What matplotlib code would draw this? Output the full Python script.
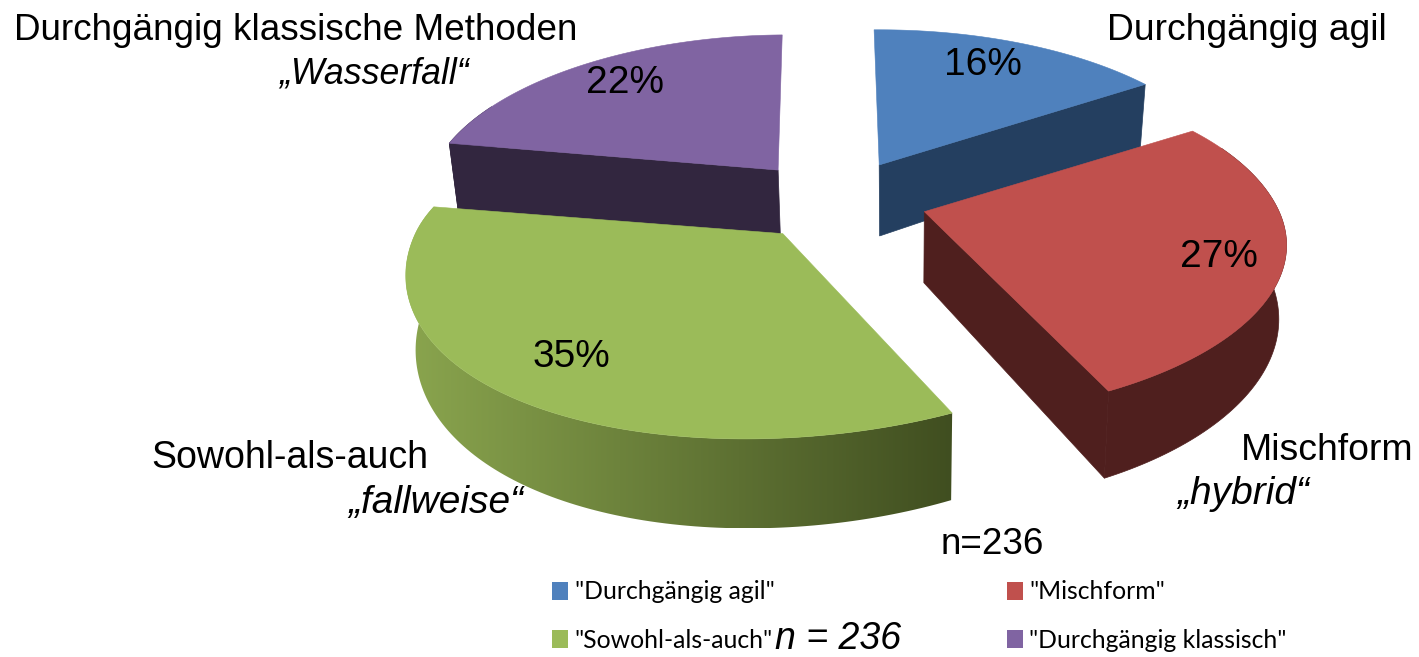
import numpy as np
import matplotlib
matplotlib.use("Agg")
import matplotlib.pyplot as plt
from matplotlib.colors import to_rgb
from matplotlib.patches import Patch, Polygon

# values
legend_names = ['"Durchgängig agil"', '"Mischform"', '"Sowohl-als-auch"', '"Durchgängig klassisch"']
shares = [16, 27, 35, 22]
top_colors = ["#4f81bd", "#c0504d", "#9bbb59", "#8064a2"]
side_colors = ["#243f60", "#4f1f1e", "#404e20", "#32263f"]
side_light = [None, None, "#8aa54e", None]

# pie geometry, in pixels of the reference
cx, cy = 837, 201
rx, ry = 362, 163
persp = 0.206
explode = 0.25
depth = 71
vanish_x, vanish_k = 900, 0.98
start_angle = -1
# the original's 3d camera skews every slice a bit differently
slice_scale = [0.98, 0.98, 1.015, 0.955]
slice_shear = [0, 8, 30, 11]


def project(apex, u, v, scale=1.0, shear=0.0, low=False):
    s = 1 / (1 + persp * v)
    x = apex[0] + (rx * scale * u + shear * v * abs(v)) * s
    y = apex[1] - ry * v * s
    if low:
        y = y + depth * s
        x = vanish_x + (x - vanish_x) * vanish_k
    return x, y


def arc(apex, a0, a1, scale, shear, low=False):
    aa = np.radians(np.linspace(a0, a1, max(int(abs(a1 - a0)), 2) + 1))
    return [project(apex, np.sin(a), np.cos(a), scale, shear, low) for a in aa]


def draw_slice(ax, share, a0, color, side, light, scale, shear):
    a1 = a0 + share * 3.6
    mid = np.radians((a0 + a1) / 2)
    apex = (cx + explode * rx * np.sin(mid), cy - explode * ry * np.cos(mid))

    # radial faces that look towards the viewer
    for a, seen in ((a0, np.sin(np.radians(a0)) < -0.02), (a1, np.sin(np.radians(a1)) > 0.02)):
        if seen:
            edge = [project(apex, 0, 0), arc(apex, a, a, scale, shear)[0]]
            edge_low = [arc(apex, a, a, scale, shear, True)[0], project(apex, 0, 0, low=True)]
            ax.add_patch(Polygon(edge + edge_low, fc=side, ec=side, lw=0.5, zorder=1))

    # outer wall, a bit past the sides of the circle, the top face hides the surplus
    w0, w1 = max(a0, 65), min(a1, 295)
    if w1 > w0:
        wall = arc(apex, w0, w1, scale, shear) + arc(apex, w0, w1, scale, shear, True)[::-1]
        if light:
            xs = [p[0] for p in wall]
            ys = [p[1] for p in wall]
            f = np.linspace(0, 1, 256)[:, None]
            grad = to_rgb(light) + (np.array(to_rgb(side)) - to_rgb(light)) * f
            im = ax.imshow(grad[None, :, :], extent=[min(xs), max(xs), max(ys), min(ys)],
                           aspect="auto", zorder=1)
            im.set_clip_path(Polygon(wall, transform=ax.transData))
        else:
            ax.add_patch(Polygon(wall, fc=side, ec=side, lw=0.5, zorder=1))

    ax.add_patch(Polygon([project(apex, 0, 0)] + arc(apex, a0, a1, scale, shear),
                         fc=color, ec=color, lw=0.4, zorder=2))


fig = plt.figure(figsize=(14.19, 6.57), dpi=100)
ax = fig.add_axes([0, 0, 1, 1])

starts = start_angle + np.cumsum([0] + shares[:-1]) * 3.6
# back slices first so the front ones cover them
for i in [3, 0, 2, 1]:
    draw_slice(ax, shares[i], starts[i], top_colors[i], side_colors[i], side_light[i],
               slice_scale[i], slice_shear[i])

ax.set_xlim(0, 1419)
ax.set_ylim(657, 0)
ax.axis("off")

plt.rcParams["font.family"] = ["Liberation Sans", "DejaVu Sans"]

pct_pos = [(983, 65), (1219, 257), (571, 357), (625, 83)]
for val, pos in zip(shares, pct_pos):
    ax.text(pos[0], pos[1], f"{val}%", fontsize=28, ha="center", va="center", zorder=5)

ax.text(296, 30, "Durchgängig klassische Methoden", fontsize=26.6, ha="center", va="center")
ax.text(374, 74, "„Wasserfall“", fontsize=25.7, style="italic", ha="center", va="center")
ax.text(1247, 31, "Durchgängig agil", fontsize=26.8, ha="center", va="center")
ax.text(1327, 450, "Mischform", fontsize=26.9, ha="center", va="center")
ax.text(1243, 494, "„hybrid“", fontsize=28, style="italic", ha="center", va="center")
ax.text(290, 458, "Sowohl-als-auch", fontsize=27, ha="center", va="center")
ax.text(436, 503, "„fallweise“", fontsize=28, style="italic", ha="center", va="center")
ax.text(992, 545, "n=236", fontsize=26.6, ha="center", va="center")
ax.text(838, 649, "n = 236", fontsize=27, style="italic", ha="center", va="baseline", zorder=6)

# legend fills column by column
order = [0, 2, 1, 3]
handles = [Patch(fc=top_colors[i], ec="none", label=legend_names[i]) for i in order]
ax.legend(handles=handles, ncols=2, frameon=False, loc="upper left",
          bbox_to_anchor=(545 / 1419, 1 - 573 / 657), prop={"family": "Lato", "size": 17.8},
          handlelength=0.65, handleheight=0.75, handletextpad=0.25,
          columnspacing=9.4, labelspacing=1.02, borderpad=0.3, borderaxespad=0)

fig.savefig("out.png", dpi=100)
